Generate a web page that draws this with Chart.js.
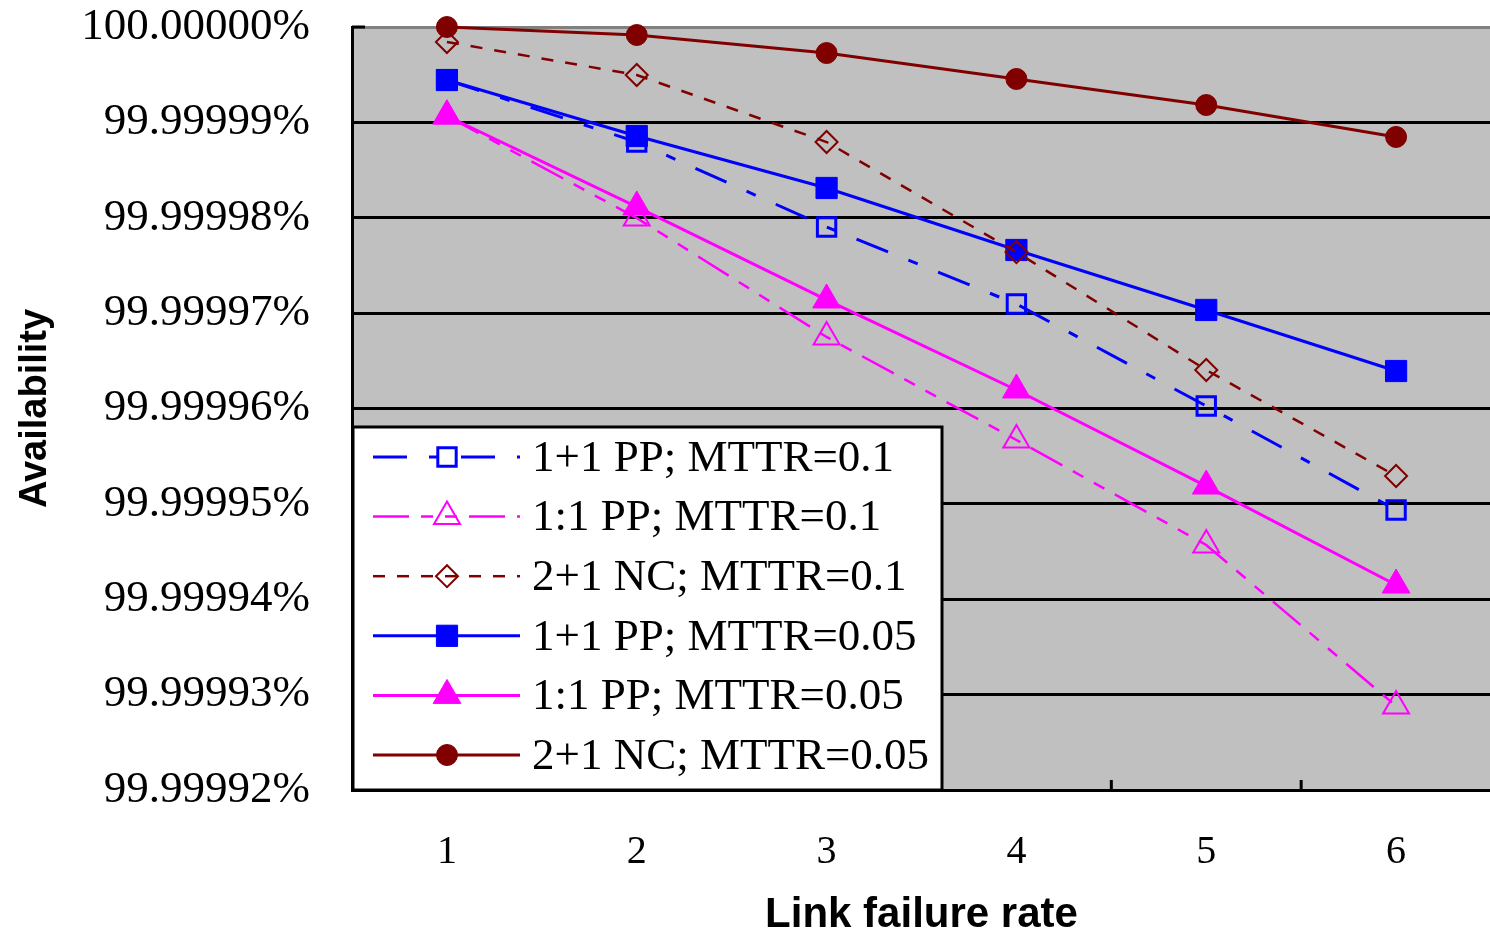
<!DOCTYPE html>
<html><head><meta charset="utf-8">
<script src="https://cdn.jsdelivr.net/npm/chart.js@4/dist/chart.umd.min.js"></script>
<style>html,body{margin:0;padding:0;background:#fff;overflow:hidden}
#wrap{position:relative;width:1508px;height:932px}
#c{display:block}</style>
</head><body><div id="wrap"><canvas id="c" width="1508" height="932" style="width:1508px;height:932px"></canvas></div>
<script>
// ---- data ----
const categories = ['1', '2', '3', '4', '5', '6'];
const seriesNames = ['1+1 PP; MTTR=0.1', '1:1 PP; MTTR=0.1', '2+1 NC; MTTR=0.1',
                     '1+1 PP; MTTR=0.05', '1:1 PP; MTTR=0.05', '2+1 NC; MTTR=0.05'];
const pp11_mttr01  = [99.99999444, 99.99998794, 99.99997903, 99.99997096, 99.99996026, 99.99994936];
const pp1to1_mttr01 = [99.99999067, 99.99997997, 99.99996750, 99.99995670, 99.99994569, 99.99992881];
const nc21_mttr01  = [99.99999843, 99.99999497, 99.99998794, 99.99997640, 99.99996404, 99.99995292];
const pp11_mttr005 = [99.99999444, 99.99998857, 99.99998312, 99.99997662, 99.99997033, 99.99996393];
const pp1to1_mttr005 = [99.99999067, 99.99998113, 99.99997138, 99.99996194, 99.99995187, 99.99994149];
const nc21_mttr005 = [100.00000000, 99.99999916, 99.99999727, 99.99999455, 99.99999182, 99.99998847];
const yTickValues = [99.99992, 99.99993, 99.99994, 99.99995, 99.99996, 99.99997, 99.99998, 99.99999, 100.0];

const BLUE = '#0000FF', MAG = '#FF00FF', BROWN = '#800000';

function mk(label, data, color, width, dash, style, r, filled, pbw) {
  return {
    label, data, borderColor: color, borderWidth: width, borderDash: dash,
    pointStyle: style, pointRadius: r, pointHoverRadius: r,
    pointBackgroundColor: filled ? color : 'rgba(0,0,0,0)',
    pointBorderColor: color, pointBorderWidth: pbw,
    tension: 0, fill: false, clip: false
  };
}

const datasets = [
  mk(seriesNames[0], pp11_mttr01, BLUE, 3, [34, 22, 10, 22], 'rect', 13, false, 3),
  mk(seriesNames[1], pp1to1_mttr01, MAG, 2.5, [36, 12, 12, 12, 12, 12], 'triangle', 15, false, 2),
  mk(seriesNames[2], nc21_mttr01, BROWN, 2.5, [12, 12], 'rectRot', 11, false, 2),
  mk(seriesNames[3], pp11_mttr005, BLUE, 3, [], 'rect', 15, true, 1),
  mk(seriesNames[4], pp1to1_mttr005, MAG, 3, [], 'triangle', 16, true, 1),
  mk(seriesNames[5], nc21_mttr005, BROWN, 3, [], 'circle', 10.5, true, 1)
];

function drawMarker(ctx, style, x, y, r, fill, stroke, lw) {
  ctx.save();
  ctx.setLineDash([]);
  ctx.beginPath();
  if (style === 'rect') { const s = r * Math.SQRT1_2; ctx.rect(x - s, y - s, 2 * s, 2 * s); }
  else if (style === 'triangle') { ctx.moveTo(x, y - r); ctx.lineTo(x + r * 0.866, y + r * 0.5); ctx.lineTo(x - r * 0.866, y + r * 0.5); ctx.closePath(); }
  else if (style === 'rectRot') { ctx.moveTo(x - r, y); ctx.lineTo(x, y - r); ctx.lineTo(x + r, y); ctx.lineTo(x, y + r); ctx.closePath(); }
  else { ctx.arc(x, y, r, 0, Math.PI * 2); }
  if (fill && fill !== 'rgba(0,0,0,0)') { ctx.fillStyle = fill; ctx.fill(); }
  if (lw > 0) { ctx.lineWidth = lw; ctx.strokeStyle = stroke; ctx.stroke(); }
  ctx.restore();
}

const bgPlugin = {
  id: 'bg',
  beforeDraw(chart) {
    const { ctx, chartArea: a } = chart;
    ctx.save();
    ctx.fillStyle = '#C0C0C0';
    ctx.fillRect(a.left, a.top, a.right - a.left, a.bottom - a.top);
    ctx.restore();
  },
  afterDatasetsDraw(chart) {
    const { ctx, chartArea: a } = chart;
    const xs = chart.scales.x;
    ctx.save();
    // category boundary tick marks (inside)
    ctx.strokeStyle = '#000'; ctx.lineWidth = 3;
    for (let i = 0; i < categories.length - 1; i++) {
      const bx = (xs.getPixelForValue(i) + xs.getPixelForValue(i + 1)) / 2;
      ctx.beginPath(); ctx.moveTo(bx, a.bottom); ctx.lineTo(bx, a.bottom - 10); ctx.stroke();
    }
    ctx.beginPath(); ctx.moveTo(a.left, a.top); ctx.lineTo(a.left + 13, a.top); ctx.stroke();

    // legend box
    const bx0 = a.left + 1, by0 = 427, bw = 589, bh = a.bottom - 427;
    ctx.fillStyle = '#fff';
    ctx.fillRect(bx0, by0, bw, bh);
    ctx.lineWidth = 3; ctx.strokeStyle = '#000';
    ctx.strokeRect(bx0, by0, bw, bh);
    ctx.font = '45px "Liberation Serif"';
    ctx.textBaseline = 'middle';
    ctx.textAlign = 'left';
    chart.data.datasets.forEach((ds, i) => {
      const y = 457 + i * 59.6;
      ctx.save();
      ctx.strokeStyle = ds.borderColor; ctx.lineWidth = ds.borderWidth;
      ctx.setLineDash(ds.borderDash || []);
      ctx.beginPath(); ctx.moveTo(373, y); ctx.lineTo(520, y); ctx.stroke();
      ctx.restore();
      drawMarker(ctx, ds.pointStyle, 447, y, ds.pointRadius, ds.pointBackgroundColor, ds.pointBorderColor, ds.pointBorderWidth);
      ctx.fillStyle = '#000';
      ctx.fillText(ds.label, 532, y + 2);
    });
    ctx.restore();
  }
};

new Chart(document.getElementById('c'), {
  type: 'line',
  data: { labels: categories, datasets },
  options: {
    responsive: false, maintainAspectRatio: false, animation: false, devicePixelRatio: 1,
    layout: { padding: { top: 27, left: 0, right: 0, bottom: 0 } },
    plugins: { legend: { display: false }, tooltip: { enabled: false } },
    scales: {
      x: {
        type: 'category', offset: true,
        grid: { display: false, drawTicks: false },
        border: { display: true, color: '#000', width: 3 },
        ticks: { font: { family: 'Liberation Serif', size: 40 }, color: '#000', padding: 38, autoSkip: false, maxRotation: 0 },
        title: { display: true, text: 'Link failure rate', color: '#000',
                 font: { family: 'Liberation Sans', weight: 'bold', size: 42, lineHeight: 0.8 }, padding: { top: 0, bottom: 0 } },
        afterFit(s) { s.height = 142; s.paddingLeft = 0; s.paddingRight = 0; }
      },
      y: {
        min: 99.99992, max: 100,
        afterBuildTicks(s) { s.ticks = yTickValues.map(v => ({ value: v })); },
        grid: { color: c => (c.tick && c.tick.value === 100 ? '#808080' : '#000'), lineWidth: 3, drawTicks: false },
        border: { display: true, color: '#000', width: 3 },
        ticks: { callback: v => Number(v).toFixed(5) + '%', font: { family: 'Liberation Serif', size: 45 }, color: '#000', padding: 42, autoSkip: false },
        title: { display: true, text: 'Availability', color: '#000',
                 font: { family: 'Liberation Sans', weight: 'bold', size: 38 }, padding: { top: 13, bottom: 0 } },
        afterFit(s) { s.width = 352; s.paddingTop = 0; s.paddingBottom = 0; }
      }
    }
  },
  plugins: [bgPlugin]
});
</script>
</body></html>
